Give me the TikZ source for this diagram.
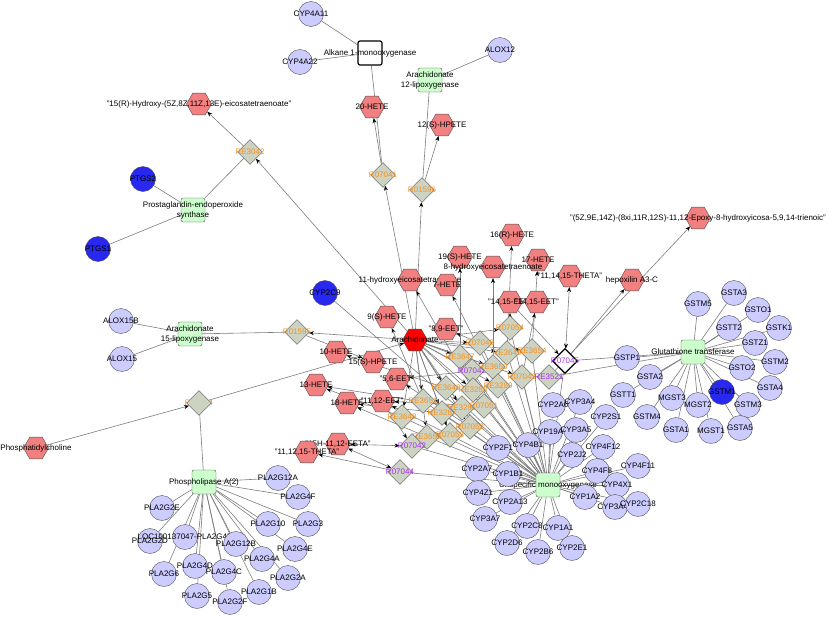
\documentclass[tikz,border=0pt]{standalone}
\usepackage{fontspec}
\setmainfont{Liberation Sans}
\usepackage{tikz}
\usetikzlibrary{arrows.meta}
\usetikzlibrary{shapes.geometric}
\usetikzlibrary{backgrounds}
\definecolor{genefill}{RGB}{204,204,255}
\definecolor{hitblue}{RGB}{40,40,240}
\definecolor{cpdfill}{RGB}{242,128,128}
\definecolor{enzfill}{RGB}{204,255,204}
\definecolor{rxfill}{RGB}{204,211,194}
\definecolor{rxorange}{RGB}{250,145,30}
\definecolor{rxpurple}{RGB}{170,50,240}
\definecolor{nodeline}{RGB}{80,80,80}
\definecolor{edgegray}{RGB}{125,125,125}
\tikzstyle{link} = [-, draw=edgegray, line width=0.6pt]
\tikzstyle{arrow_rx} = [->, draw=edgegray, line width=0.6pt]
\tikzstyle{arrow_both} = [<->, draw=edgegray, line width=0.6pt]
\tikzstyle{rxlab} = [text=rxorange]
\tikzset{
  gene/.style={circle,fill=genefill,draw=nodeline,inner sep=0pt,minimum size=25pt,label={center:#1}},
  gene_hit/.style={gene=#1,fill=hitblue},
  cpd/.style={regular polygon,regular polygon sides=6,fill=cpdfill,draw=nodeline,inner sep=0pt,minimum size=25pt,label={center:#1}},
  cpd_main/.style={cpd=#1,fill=red},
  enzyme/.style={rectangle,rounded corners=2pt,fill=enzfill,draw=nodeline,inner sep=0pt,minimum size=24pt,label={[align=center]center:#1}},
  enzyme_open/.style={enzyme=#1,fill=white,draw=black,line width=1.2pt},
  rxbox/.style={diamond,fill=rxfill,draw=nodeline,inner sep=0pt,minimum size=25pt},
  rx/.style={rxbox,label={[text=rxorange]center:#1}},
  rx_p/.style={rxbox,label={[text=rxpurple]center:#1}},
  rx_open/.style={rxbox,fill=white,draw=black,line width=1.2pt,label={[text=rxpurple]center:#1}}
}

\begin{document}
\begin{tikzpicture}[x=1pt,y=-1pt,font=\fontsize{8}{10}\selectfont,>={Stealth[length=5pt,width=4pt,color=black]}]
  \useasboundingbox (0,0) rectangle (830,616);

  \node[enzyme_open={Alkane 1-monooxygenase}] (alkane) at (370,53) {};
  \node[enzyme={Arachidonate\\12-lipoxygenase}] (lox12) at (430,80) {};
  \node[enzyme={Prostaglandin-endoperoxide\\synthase}] (pges) at (193,210) {};
  \node[enzyme={Arachidonate\\15-lipoxygenase}] (lox15) at (190,334) {};
  \node[enzyme={Phospholipase A(2)}] (pla) at (204,482) {};
  \node[enzyme={Unspecific monooxygenase}] (umo) at (548,485) {};
  \node[enzyme={Glutathione transferase}] (gt) at (693,352) {};

  \node[gene=CYP4A11] (CYP4A11) at (311,14) {};
  \node[gene=CYP4A22] (CYP4A22) at (300,62) {};
  \node[gene=ALOX12] (ALOX12) at (500,50) {};
  \node[gene=ALOX15B] (ALOX15B) at (121,321) {};
  \node[gene=ALOX15] (ALOX15) at (122,359) {};
  \node[gene_hit=PTGS2] (PTGS2) at (143,179) {};
  \node[gene_hit=PTGS1] (PTGS1) at (98,249) {};
  \node[gene_hit=CYP2C9] (CYP2C9) at (325,293) {};

  \foreach \g/\x/\y in {PLA2G12A/278/478, PLA2G2E/162/508, PLA2G4F/298/497,
      PLA2G10/268/524, PLA2G3/308/524, PLA2G2D/150/541, LOC100137047-PLA2G4B/185/537,
      PLA2G12B/236/544, PLA2G4E/295/549, PLA2G4D/195/566, PLA2G4A/262/559,
      PLA2G6/164/574, PLA2G4C/224/572, PLA2G2A/288/578, PLA2G1B/259/592,
      PLA2G5/197/596, PLA2G2F/230/602}
    \node[gene=\g] (\g) at (\x,\y) {};

  \foreach \g/\x/\y in {CYP2A6/553/405, CYP3A4/580/402, CYP2S1/606/417,
      CYP19A1/550/432, CYP3A5/576/430, CYP4F12/603/447, CYP2J2/572/455,
      CYP4B1/528/445, CYP2F1/498/448, CYP2A7/477/469, CYP1B1/508/474,
      CYP4F8/597/471, CYP4F11/638/466, CYP4X1/617/485, CYP4Z1/478/493,
      CYP2A13/510/502, CYP1A2/585/497, CYP3A43/615/507, CYP2C18/638/504,
      CYP3A7/485/519, CYP2C8/527/526, CYP1A1/558/528, CYP2D6/507/543,
      CYP2B6/538/552, CYP2E1/572/548}
    \node[gene=\g] (\g) at (\x,\y) {};

  \foreach \g/\x/\y in {GSTM5/698/304, GSTA3/734/293, GSTO1/758/310,
      GSTT2/729/328, GSTK1/779/328, GSTZ1/755/343, GSTP1/627/358,
      GSTM2/775/362, GSTO2/742/368, GSTA2/650/377, GSTT1/623/395,
      MGST3/672/398, MGST2/698/405, GSTM3/748/405, GSTA4/770/388,
      GSTM4/647/417, GSTA1/676/430, MGST1/711/431, GSTA5/740/428}
    \node[gene=\g] (\g) at (\x,\y) {};
  \node[gene_hit=GSTM1] (GSTM1) at (722,392) {};

  \node[rx=R07041] (R07041) at (383,175) {};
  \node[rx=R01596] (R01596) at (422,190) {};
  \node[rx=RE3042] (RE3042) at (250,152) {};
  \node[rx=R01595] (R01595) at (297,332) {};
  \node[rxlab] (R07064lab) at (199,403) {R07064};
  \node[rxbox] (R07064) at (199,403) {};
  \node[rx=R07054] (R07054) at (510,328) {};
  \node[rx=R07048] (R07048) at (480,343) {};
  \node[rx=RE3647] (RE3647) at (460,357) {};
  \node[rx=RE3649] (RE3649) at (507,353) {};
  \node[rx=RE3654] (RE3654) at (532,351) {};
  \node[rx_p=R07042] (R07042) at (472,371) {};
  \node[rx=RE3650] (RE3650) at (493,367) {};
  \node[rx=R07043] (R07043) at (522,377) {};
  \node[rx_p=RE3521] (RE3521) at (549,377) {};
  \node[rx_open=R07045] (R07045) at (565,361) {};
  \node[rx=RE3648] (RE3648) at (446,388) {};
  \node[rx=RE3288] (RE3288) at (473,390) {};
  \node[rx=RE3289] (RE3289) at (498,386) {};
  \node[rx=RE3651] (RE3651) at (423,401) {};
  \node[rx=RE3286] (RE3286) at (462,408) {};
  \node[rx=R07051] (R07051) at (484,406) {};
  \node[rx=RE3648] (RE3648b) at (402,417) {};
  \node[rx=RE3287] (RE3287) at (442,413) {};
  \node[rx=R07052] (R07052) at (470,427) {};
  \node[rx=RE3653] (RE3653) at (427,437) {};
  \node[rx=R07053] (R07053) at (450,435) {};
  \node[rx_p=R07042] (R07042b) at (412,446) {};
  \node[rx_p=R07044] (R07044) at (400,472) {};

  \node[cpd={"15(R)-Hydroxy-(5Z,8Z,11Z,13E)-eicosatetraenoate"}] (hydroxy15r) at (199,104) {};
  \node[cpd=20-HETE] (hete20) at (372,107) {};
  \node[cpd=12(S)-HPETE] (hpete12) at (442,125) {};
  \node[cpd={"(5Z,9E,14Z)-(8xi,11R,12S)-11,12-Epoxy-8-hydroxyicosa-5,9,14-trienoic"}] (epoxy) at (698,218) {};
  \node[cpd=hepoxilin A3-C] (hxa3c) at (632,280) {};
  \node[cpd={"11,14,15-THETA"}] (theta111415) at (570,276) {};
  \node[cpd=16(R)-HETE] (hete16r) at (512,235) {};
  \node[cpd=19(S)-HETE] (hete19s) at (460,257) {};
  \node[cpd=17-HETE] (hete17) at (538,260) {};
  \node[cpd=8-hydroxyeicosatetraenoate] (hydroxy8) at (493,267) {};
  \node[cpd=11-hydroxyeicosatetraenoate] (hydroxy11) at (410,280) {};
  \node[cpd=7-HETE] (hete7) at (447,285) {};
  \node[cpd={"14,15-EET"}] (eet1415) at (510,302) {};
  \node[cpd={"14,15-EET"}] (eet15b) at (537,302) {};
  \node[cpd=9(S)-HETE] (hete9s) at (387,317) {};
  \node[cpd={"8,9-EET"}] (eet89) at (446,329) {};
  \node[cpd_main=Arachidonate] (ara) at (415,340) {};
  \node[cpd=10-HETE] (hete10) at (336,352) {};
  \node[cpd=15(S)-HPETE] (hpete15s) at (373,362) {};
  \node[cpd={"5,6-EET"}] (eet56) at (397,379) {};
  \node[cpd=13-HETE] (hete13) at (316,385) {};
  \node[cpd=18-HETE] (hete18) at (347,403) {};
  \node[cpd={"11,12-EET"}] (eet1112) at (382,401) {};
  \node[cpd={"15H-11,12-EETA"}] (eeta) at (338,444) {};
  \node[cpd={"11,12,15-THETA"}] (theta111215) at (307,452) {};
  \node[cpd=Phosphatidylcholine] (pc) at (36,448) {};

  \begin{scope}[on background layer]
    \path[link]
      \foreach \g in {CYP4A11,CYP4A22,R07041} { (alkane) edge (\g) }
      \foreach \g in {ALOX12,R01596} { (lox12) edge (\g) }
      \foreach \g in {PTGS2,PTGS1,RE3042} { (pges) edge (\g) }
      \foreach \g in {ALOX15B,ALOX15,R01595} { (lox15) edge (\g) }
      \foreach \g in {PLA2G12A,PLA2G2E,PLA2G4F,PLA2G10,PLA2G3,PLA2G2D,LOC100137047-PLA2G4B,
          PLA2G12B,PLA2G4E,PLA2G4D,PLA2G4A,PLA2G6,PLA2G4C,PLA2G2A,PLA2G1B,PLA2G5,PLA2G2F,R07064}
        { (pla) edge (\g) }
      \foreach \g in {CYP2A6,CYP3A4,CYP2S1,CYP19A1,CYP3A5,CYP4F12,CYP2J2,CYP4B1,CYP2F1,
          CYP2A7,CYP1B1,CYP4F8,CYP4F11,CYP4X1,CYP4Z1,CYP2A13,CYP1A2,CYP3A43,CYP2C18,
          CYP3A7,CYP2C8,CYP1A1,CYP2D6,CYP2B6,CYP2E1,CYP2C9}
        { (umo) edge (\g) }
      \foreach \g in {R07054,R07048,RE3647,RE3649,RE3654,R07042,RE3650,R07043,R07045,
          RE3648,RE3288,RE3289,RE3651,RE3286,R07051,RE3648b,RE3287,R07052,RE3653,
          R07053,R07042b,R07044}
        { (umo) edge (\g) }
      \foreach \g in {GSTM5,GSTA3,GSTO1,GSTT2,GSTK1,GSTZ1,GSTP1,GSTM2,GSTO2,GSTA2,GSTT1,
          MGST3,MGST2,GSTM1,GSTM3,GSTA4,GSTM4,GSTA1,MGST1,GSTA5,R07045,RE3521}
        { (gt) edge (\g) };

    \path[arrow_rx]
      \foreach \r in {R07041,R01596,RE3042,R01595,R07054,R07048,RE3647,RE3649,RE3654,
          R07042,RE3650,R07043,RE3648,RE3288,RE3289,RE3651,RE3286,R07051,RE3648b,
          RE3287,R07052,RE3653,R07053}
        { (ara) edge (\r) }
      \foreach \r/\c in {R07041/hete20,R01596/hpete12,RE3042/hydroxy15r,R01595/hpete15s,
          R07054/eet1415,R07048/eet89,RE3647/hete19s,RE3649/hete16r,RE3654/hete17,
          R07042/eet56,RE3650/hydroxy8,R07043/eet15b,RE3648/hete10,RE3288/hydroxy11,
          RE3289/hete7,RE3651/hete9s,RE3286/hete13,R07051/eet1112,RE3648b/hete13,
          RE3287/hete18,R07052/eet56,RE3653/hete18,R07053/eet1112,R07045/hxa3c,
          RE3521/epoxy,R07044/theta111215,eet1415/R07045,eet1112/R07042b,
          pc/R07064,R07064/ara}
        { (\r) edge (\c) };

    \path[arrow_both]
      \foreach \a/\b in {eeta/R07042b,eeta/R07044,theta111415/R07045}
        { (\a) edge (\b) };
  \end{scope}
\end{tikzpicture}
\end{document}
